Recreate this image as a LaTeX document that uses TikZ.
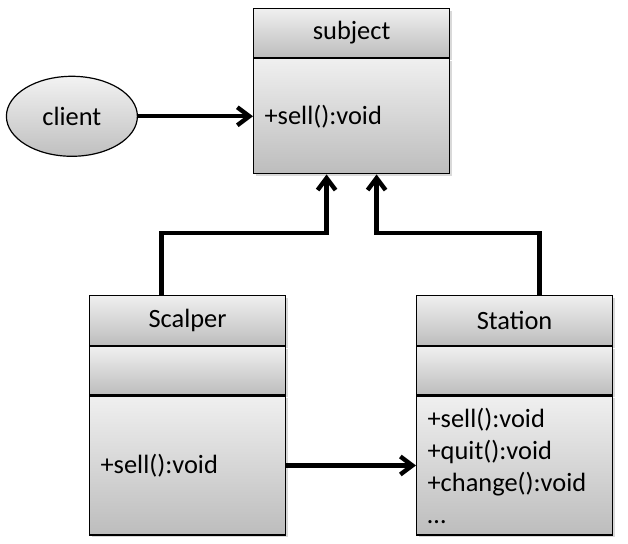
\documentclass[tikz,border=0pt]{standalone}
\usepackage{fontspec}
\setmainfont{Carlito}
\usetikzlibrary{arrows.meta, positioning, shapes.geometric, shadows}

\begin{document}
\begin{tikzpicture}[
    x=0.5pt, y=-0.5pt,
    node distance=0pt,
    font=\fontsize{13.2}{16}\selectfont,
    cls/.style={draw, line width=0.6pt, top color=black!6, bottom color=black!26, minimum width=98pt, inner sep=0pt,
      drop shadow={shadow xshift=1pt, shadow yshift=-1pt, opacity=0.3}},
    head/.style={cls, minimum height=25pt},
    ops/.style={cls, text width=87pt, inner xsep=5.5pt, align=left},
    actor/.style={ellipse, draw, line width=0.6pt, top color=black!5, bottom color=black!25, minimum width=65.5pt, minimum height=40pt},
    arr/.style={-{Straight Barb[length=6pt, width=9pt]}, line width=2.2pt}
  ]
    \useasboundingbox (0,0) rectangle (628,544);

    \node[head, anchor=north west, minimum height=24.5pt] (subjh) at (253,8) {subject};
    \node[ops, minimum height=57.5pt, below=of subjh] (subjb) {+sell():void};
    \node[actor, left=57.5pt of subjb] (client) {client};

    \node[head, anchor=north west] (scalh) at (89,295) {Scalper};
    \node[cls, minimum height=24pt, below=of scalh] (scalm) {};
    \node[ops, minimum height=69.5pt, below=of scalm] (scalb) {+sell():void};

    \node[head, anchor=north west] (stath) at (416,295) {Station};
    \node[cls, minimum height=24pt, below=of stath] (statm) {};
    \node[ops, minimum height=69.5pt, below=of statm] (statb) {+sell():void\\+quit():void\\+change():void\\…};

    \draw[arr] (client) -- (subjb);
    \draw[arr] (scalb) -- (statb);
    \draw[arr] ([xshift=-13pt]scalh.north) -- ++(0,-62) -| ([xshift=-12.5pt]subjb.south);
    \draw[arr] ([xshift=12.5pt]stath.north) -- ++(0,-62) -| ([xshift=12.5pt]subjb.south);
  \end{tikzpicture}
\end{document}
